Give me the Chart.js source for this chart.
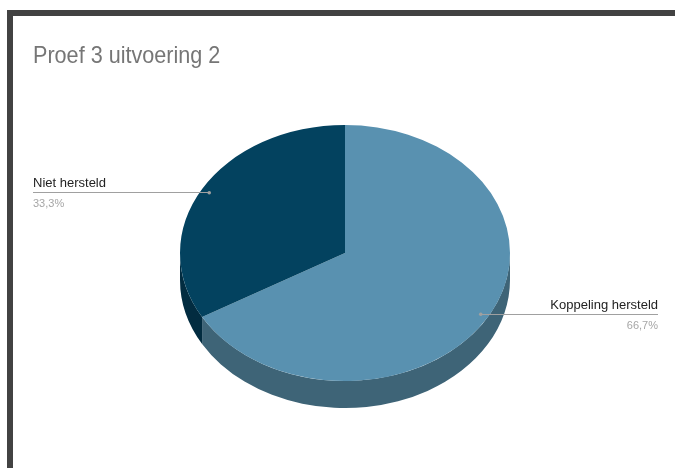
<!DOCTYPE html>
<html>
<head>
<meta charset="utf-8">
<script src="https://cdn.jsdelivr.net/npm/chart.js@4.4.1/dist/chart.umd.min.js"></script>
<style>
  html, body { margin: 0; padding: 0; background: #fff; }
  #wrap { position: relative; width: 675px; height: 468px; overflow: hidden; }
  #frame {
    position: absolute; left: 7px; top: 10px; right: 0; bottom: 0;
    border-top: 6px solid #424242; border-left: 6px solid #424242;
  }
  canvas { position: absolute; left: 0; top: 0; }
</style>
</head>
<body>
<div id="wrap">
  <div id="frame"></div>
  <canvas id="pie" width="675" height="468"></canvas>
</div>
<script>
// Proef 3, uitvoering 2
const title = 'Proef 3 uitvoering 2';
const categories = ['Koppeling hersteld', 'Niet hersteld'];
const counts = [2, 1];
const sliceColors = ['#5991b0', '#03425f'];
const sideColors = ['#3e6477', '#022c40'];

const tilt = 0.776;   // vertical squash of the pie top
const depth = 27;     // thickness of the pie

function pct(i) {
  const total = counts.reduce((a, b) => a + b, 0);
  return (counts[i] / total * 100).toFixed(1).replace('.', ',') + '%';
}

const pie3d = {
  id: 'pie3d',
  beforeDatasetsDraw(chart) {
    const ctx = chart.ctx;
    const arcs = chart.getDatasetMeta(0).data;
    // side walls: only the front half (0..PI) is visible
    arcs.forEach((arc, i) => {
      const { x, y, startAngle, endAngle, outerRadius } = arc.getProps(['x', 'y', 'startAngle', 'endAngle', 'outerRadius']);
      [0, 2 * Math.PI].forEach(shift => {
        const a0 = Math.max(startAngle, shift);
        const a1 = Math.min(endAngle, shift + Math.PI);
        if (a1 <= a0) return;
        ctx.beginPath();
        ctx.ellipse(x, y, outerRadius, outerRadius * tilt, 0, a0, a1);
        ctx.lineTo(x + Math.cos(a1) * outerRadius, y + Math.sin(a1) * outerRadius * tilt + depth);
        ctx.ellipse(x, y + depth, outerRadius, outerRadius * tilt, 0, a1, a0, true);
        ctx.closePath();
        ctx.fillStyle = sideColors[i];
        ctx.fill();
      });
    });
    const cy = arcs[0].y;
    ctx.save();
    ctx.translate(0, cy);
    ctx.scale(1, tilt);
    ctx.translate(0, -cy);
  },
  afterDatasetsDraw(chart) {
    chart.ctx.restore();
  },
  afterDraw(chart) {
    const ctx = chart.ctx;
    // title, slightly narrow like the sheet export
    ctx.save();
    ctx.translate(33, 63);
    ctx.scale(0.9, 1);
    ctx.font = '24px "Liberation Sans", Arial, sans-serif';
    ctx.fillStyle = '#767676';
    ctx.textBaseline = 'alphabetic';
    ctx.fillText(title, 0, 0);
    ctx.restore();

    // leader lines with labels
    const arcs = chart.getDatasetMeta(0).data;
    arcs.forEach((arc, i) => {
      const { x, y, startAngle, endAngle, outerRadius } = arc.getProps(['x', 'y', 'startAngle', 'endAngle', 'outerRadius']);
      const mid = (startAngle + endAngle) / 2;
      const px = x + Math.cos(mid) * outerRadius * 0.95;
      const py = y + Math.sin(mid) * outerRadius * tilt * 0.95;
      const left = Math.cos(mid) < 0;
      const ex = left ? 33 : 658;
      ctx.save();
      ctx.strokeStyle = '#a0a0a0';
      ctx.lineWidth = 1;
      ctx.beginPath();
      ctx.moveTo(px, Math.round(py) + 0.5);
      ctx.lineTo(ex, Math.round(py) + 0.5);
      ctx.stroke();
      ctx.fillStyle = '#a0a0a0';
      ctx.beginPath();
      ctx.arc(px, py + 0.5, 1.8, 0, Math.PI * 2);
      ctx.fill();
      ctx.textAlign = left ? 'left' : 'right';
      ctx.fillStyle = '#222';
      ctx.font = '13px "Liberation Sans", Arial, sans-serif';
      ctx.fillText(categories[i], ex, py - 5);
      ctx.fillStyle = '#a6a6a6';
      ctx.font = '11px "Liberation Sans", Arial, sans-serif';
      ctx.fillText(pct(i), ex, py + 15);
      ctx.restore();
    });
  }
};

new Chart(document.getElementById('pie'), {
  type: 'pie',
  data: {
    labels: categories,
    datasets: [{
      data: counts,
      backgroundColor: sliceColors,
      borderWidth: 0
    }]
  },
  options: {
    responsive: false,
    animation: false,
    events: [],
    layout: { padding: { left: 180, right: 165, top: 88, bottom: 50 } },
    plugins: {
      legend: { display: false },
      tooltip: { enabled: false },
      title: { display: false }
    }
  },
  plugins: [pie3d]
});
</script>
</body>
</html>
